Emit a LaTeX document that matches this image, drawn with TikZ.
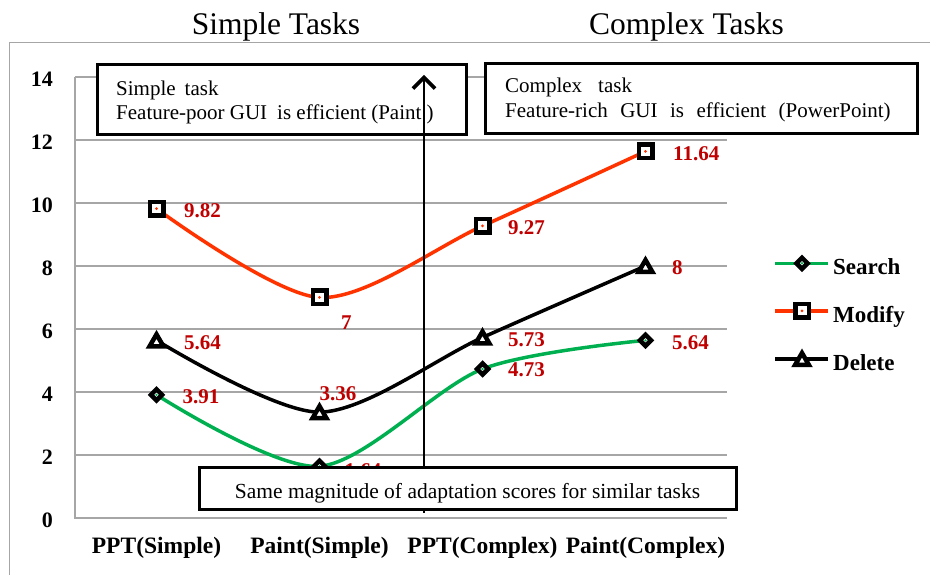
\documentclass[tikz,border=0pt]{standalone}
\usepackage{fontspec}
\setmainfont{Liberation Serif}
\usetikzlibrary{positioning,shapes.geometric,arrows.meta}
\definecolor{gridgray}{RGB}{166,166,166}
\definecolor{srchgreen}{RGB}{0,176,80}
\definecolor{modred}{RGB}{255,51,0}
\definecolor{vallabred}{RGB}{192,0,0}

\begin{document}
\begin{tikzpicture}[x=1pt,y=1pt,
    gridline/.style={draw=gridgray,line width=1.4pt},
    titlelab/.style={font=\fontsize{31.5}{36}\selectfont,inner sep=0pt},
    ticklab/.style={font=\fontsize{22}{22}\selectfont\bfseries,inner sep=0pt},
    catlab/.style={font=\fontsize{23.5}{23.5}\selectfont\bfseries,inner sep=0pt},
    vallab/.style={font=\fontsize{21}{21}\selectfont\bfseries,text=vallabred,inner sep=0pt,anchor=west},
    srchline/.style={draw=srchgreen,line width=3.5pt},
    modline/.style={draw=modred,line width=3.5pt},
    delline/.style={draw=black,line width=3.5pt},
    srchmark/.style={diamond,draw=black,fill=white,line width=4.5pt,minimum size=13pt,inner sep=0pt,
      path picture={\fill[srchgreen] (path picture bounding box.center) circle (1.3pt);}},
    modmark/.style={rectangle,draw=black,fill=white,line width=4.5pt,minimum size=13.5pt,inner sep=0pt,
      path picture={\fill[modred] (path picture bounding box.center) circle (1.5pt);}},
    delmark/.style={regular polygon,regular polygon sides=3,draw=black,fill=white,line width=4.5pt,
      minimum size=16pt,inner sep=0pt,yshift=-2pt},
    notebox/.style={draw=black,line width=3pt,fill=white,inner sep=0pt},
    notetext/.style={font=\fontsize{21}{24.5}\selectfont,align=left,inner sep=0pt},
    legtext/.style={font=\fontsize{23}{23}\selectfont\bfseries,inner sep=0pt,anchor=base west},
    pointer/.style={line width=2.2pt,-{Straight Barb[length=11pt,width=22pt,line width=3.6pt]}}]
\useasboundingbox (0,0) rectangle (930,575);
\draw[draw=gridgray,line width=1.6pt] (9.5,0) |- (930,532.5);

\begin{scope}[x=163pt,y=31.5pt,shift={(-6.5pt,57pt)}]
  \foreach \v in {2,4,...,14} \draw[gridline] (0.5,\v) -- (4.5,\v);
  \draw[gridline] (0.5,14) |- (4.5,0);
  \foreach \v in {0,2,...,14}
    \node[ticklab,anchor=east] (tick\v) at ([xshift=-22pt,yshift=-2.5pt]0.5,\v) {\v};
  \foreach \c [count=\i] in {PPT(Simple),Paint(Simple),PPT(Complex),Paint(Complex)}
    \node[catlab] (cat\i) at ([yshift=-30pt]\i,0) {\c};

  \foreach \v [count=\i] in {3.91,1.64,4.73,5.64} \coordinate (srch\i) at (\i,\v);
  \foreach \v [count=\i] in {9.82,7,9.27,11.64} \coordinate (mod\i) at (\i,\v);
  \foreach \v [count=\i] in {5.64,3.36,5.73,8} \coordinate (del\i) at (\i,\v);

  \draw[srchline] plot[smooth] coordinates {(srch1) (srch2) (srch3) (srch4)};
  \draw[modline] plot[smooth] coordinates {(mod1) (mod2) (mod3) (mod4)};
  \draw[delline] plot[smooth] coordinates {(del1) (del2) (del3) (del4)};

  \foreach \i in {1,...,4} {
    \node[srchmark] (srchm\i) at (srch\i) {};
    \node[modmark] (modm\i) at (mod\i) {};
    \node[delmark] (delm\i) at (del\i) {};
  }

  \foreach \i/\dx/\dy/\t in {1/26pt/-2pt/3.91,2/25pt/-4pt/1.64,3/25.5pt/-1pt/4.73,4/26.5pt/-2pt/5.64}
    \node[vallab,right=\dx of srch\i,yshift=\dy] (srchv\i) {\t};
  \foreach \i/\dx/\dy/\t in {1/27.5pt/-2pt/9.82,2/21.5pt/-25.5pt/7,3/25.5pt/-2pt/9.27,4/27.5pt/-2pt/11.64}
    \node[vallab,right=\dx of mod\i,yshift=\dy] (modv\i) {\t};
  \foreach \i/\dx/\dy/\t in {1/27.5pt/-2pt/5.64,2/0pt/18pt/3.36,3/25.5pt/-2.5pt/5.73,4/26.5pt/-2pt/8}
    \node[vallab,right=\dx of del\i,yshift=\dy] (delv\i) {\t};
\end{scope}

\node[notebox,minimum width=369pt,minimum height=70pt,anchor=north west] (simplebox) at (96,512) {};
\node[notetext,below right=17.5pt and 20pt of simplebox.north west] (simpletext)
  {Simple\hspace{9pt}task\\Feature-poor GUI\hspace{10pt}is efficient (Paint\ )};
\node[notebox,minimum width=432pt,minimum height=70pt,anchor=north west] (complexbox) at (484,513) {};
\node[notetext,below right=16pt and 21pt of complexbox.north west] (complextext)
  {Complex\hspace{16pt}task\\Feature-rich\hspace{12.5pt}GUI\hspace{12.5pt}is\hspace{12.5pt}efficient\hspace{12.5pt}(PowerPoint)};

\coordinate (arrlow) at (424,62);
\coordinate (arrhigh) at (424,500);
\draw[pointer] (arrlow) -- (arrhigh);

\node[notebox,minimum width=537pt,minimum height=42pt,font=\fontsize{21.5}{21.5}\selectfont,
  text height=25pt,text depth=5pt] (samebox) at (467.5,86)
  {Same magnitude of adaptation scores for similar tasks};

\foreach \key/\yy/\lin/\mrk in {Search/311.7/srchline/srchmark,Modify/264/modline/modmark,Delete/216/delline/delmark} {
  \coordinate (\key-a) at (775,\yy);
  \coordinate (\key-b) at (828,\yy);
  \draw[\lin] (\key-a) -- (\key-b);
  \node[\mrk] (\key-m) at (802,\yy) {};
  \node[legtext] (\key-t) at (833,\yy-11.5) {\key};
}

\node[titlelab,anchor=base] (simpletitle) at (276,540) {Simple Tasks};
\node[titlelab,anchor=base] (complextitle) at (686.5,540) {Complex Tasks};
\end{tikzpicture}
\end{document}
